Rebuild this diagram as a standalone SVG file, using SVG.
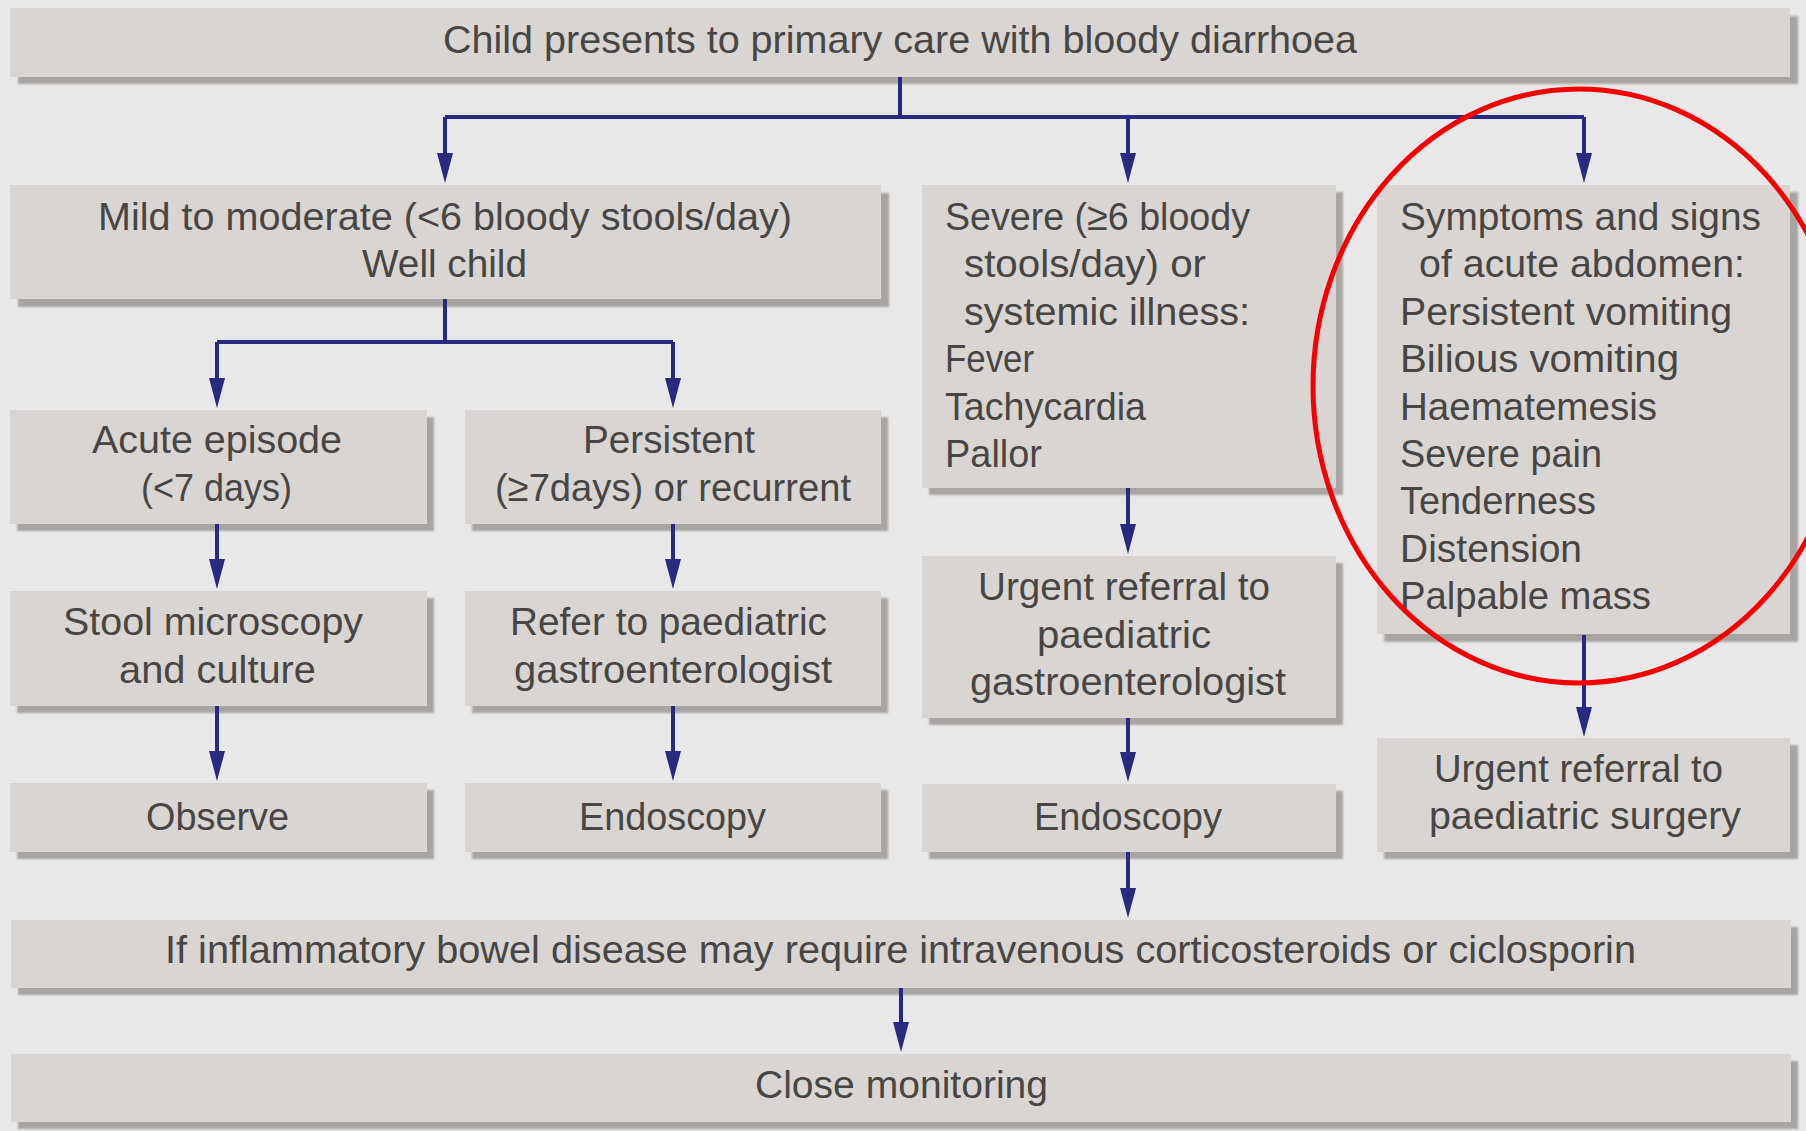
<svg xmlns="http://www.w3.org/2000/svg" width="1806" height="1131" viewBox="0 0 1806 1131">
  <defs>
    <style>
      .bg { fill: #e8e8e8; }
      .box { fill: #d9d5d2; }
      .sh { fill: #a8a4a2; filter: url(#soft); }
      .t { font-family: "Liberation Sans", Arial, sans-serif; font-size: 39.5px; fill: #474645; }
      .ln { fill: none; stroke: #29297f; stroke-width: 4; }
      .arr { fill: none; stroke: #29297f; stroke-width: 4; marker-end: url(#head); }
    </style>
    <filter id="soft" x="-5%" y="-20%" width="110%" height="140%">
      <feGaussianBlur stdDeviation="1.3"/>
    </filter>
    <marker id="head" viewBox="0 0 30 16" refX="10" refY="8" markerWidth="30" markerHeight="16" markerUnits="userSpaceOnUse" orient="auto">
      <path d="M0,0 L30,8 L0,16 Z" fill="#29297f"/>
    </marker>
  </defs>

  <rect class="bg" x="0" y="0" width="1806" height="1131"/>

  <!-- start -->
  <g id="start">
    <rect class="sh" x="18" y="16" width="1780" height="68"/>
    <rect class="box" x="10" y="8" width="1780" height="69"/>
    <text class="t" x="443" y="53" textLength="914" lengthAdjust="spacingAndGlyphs">Child presents to primary care with bloody diarrhoea</text>
  </g>

  <!-- first level -->
  <g id="mild">
    <rect class="sh" x="18" y="193" width="871" height="114"/>
    <rect class="box" x="10" y="185" width="871" height="114"/>
    <text class="t" x="98" y="230" textLength="694" lengthAdjust="spacingAndGlyphs">Mild to moderate (&lt;6 bloody stools/day)</text>
    <text class="t" x="362" y="277" textLength="165" lengthAdjust="spacingAndGlyphs">Well child</text>
  </g>

  <g id="severe">
    <rect class="sh" x="929" y="192" width="414" height="303"/>
    <rect class="box" x="922" y="185" width="414" height="303"/>
    <text class="t" x="945" y="230" textLength="305" lengthAdjust="spacingAndGlyphs">Severe (≥6 bloody</text>
    <text class="t" x="964" y="277" textLength="242" lengthAdjust="spacingAndGlyphs">stools/day) or</text>
    <text class="t" x="964" y="325" textLength="286" lengthAdjust="spacingAndGlyphs">systemic illness:</text>
    <text class="t" x="945" y="372" textLength="89" lengthAdjust="spacingAndGlyphs">Fever</text>
    <text class="t" x="945" y="420" textLength="201" lengthAdjust="spacingAndGlyphs">Tachycardia</text>
    <text class="t" x="945" y="467" textLength="97" lengthAdjust="spacingAndGlyphs">Pallor</text>
  </g>

  <g id="acute-abdomen">
    <rect class="sh" x="1384" y="192" width="414" height="450"/>
    <rect class="box" x="1377" y="185" width="413" height="449"/>
    <text class="t" x="1400" y="230" textLength="361" lengthAdjust="spacingAndGlyphs">Symptoms and signs</text>
    <text class="t" x="1419" y="277" textLength="326" lengthAdjust="spacingAndGlyphs">of acute abdomen:</text>
    <text class="t" x="1400" y="325" textLength="332" lengthAdjust="spacingAndGlyphs">Persistent vomiting</text>
    <text class="t" x="1400" y="372" textLength="279" lengthAdjust="spacingAndGlyphs">Bilious vomiting</text>
    <text class="t" x="1400" y="420" textLength="257" lengthAdjust="spacingAndGlyphs">Haematemesis</text>
    <text class="t" x="1400" y="467" textLength="202" lengthAdjust="spacingAndGlyphs">Severe pain</text>
    <text class="t" x="1400" y="514" textLength="196" lengthAdjust="spacingAndGlyphs">Tenderness</text>
    <text class="t" x="1400" y="562" textLength="182" lengthAdjust="spacingAndGlyphs">Distension</text>
    <text class="t" x="1400" y="609" textLength="251" lengthAdjust="spacingAndGlyphs">Palpable mass</text>
  </g>

  <!-- mild branch -->
  <g id="acute">
    <rect class="sh" x="17" y="417" width="417" height="114"/>
    <rect class="box" x="10" y="410" width="417" height="114"/>
    <text class="t" x="92" y="453" textLength="250" lengthAdjust="spacingAndGlyphs">Acute episode</text>
    <text class="t" x="141" y="501" textLength="151" lengthAdjust="spacingAndGlyphs">(&lt;7 days)</text>
  </g>

  <g id="persistent">
    <rect class="sh" x="472" y="417" width="416" height="114"/>
    <rect class="box" x="465" y="410" width="416" height="114"/>
    <text class="t" x="583" y="453" textLength="172" lengthAdjust="spacingAndGlyphs">Persistent</text>
    <text class="t" x="495" y="501" textLength="356" lengthAdjust="spacingAndGlyphs">(≥7days) or recurrent</text>
  </g>

  <g id="stool">
    <rect class="sh" x="17" y="598" width="417" height="115"/>
    <rect class="box" x="10" y="591" width="417" height="115"/>
    <text class="t" x="63" y="635" textLength="300" lengthAdjust="spacingAndGlyphs">Stool microscopy</text>
    <text class="t" x="119" y="683" textLength="197" lengthAdjust="spacingAndGlyphs">and culture</text>
  </g>

  <g id="refer">
    <rect class="sh" x="472" y="598" width="416" height="115"/>
    <rect class="box" x="465" y="591" width="416" height="115"/>
    <text class="t" x="510" y="635" textLength="317" lengthAdjust="spacingAndGlyphs">Refer to paediatric</text>
    <text class="t" x="514" y="683" textLength="318" lengthAdjust="spacingAndGlyphs">gastroenterologist</text>
  </g>

  <g id="observe">
    <rect class="sh" x="17" y="790" width="417" height="69"/>
    <rect class="box" x="10" y="783" width="417" height="69"/>
    <text class="t" x="146" y="830" textLength="143" lengthAdjust="spacingAndGlyphs">Observe</text>
  </g>

  <g id="endoscopy-1">
    <rect class="sh" x="472" y="790" width="416" height="69"/>
    <rect class="box" x="465" y="783" width="416" height="69"/>
    <text class="t" x="579" y="830" textLength="187" lengthAdjust="spacingAndGlyphs">Endoscopy</text>
  </g>

  <!-- severe branch -->
  <g id="urgent-gastro">
    <rect class="sh" x="929" y="563" width="414" height="162"/>
    <rect class="box" x="922" y="556" width="414" height="162"/>
    <text class="t" x="978" y="600" textLength="292" lengthAdjust="spacingAndGlyphs">Urgent referral to</text>
    <text class="t" x="1037" y="648" textLength="174" lengthAdjust="spacingAndGlyphs">paediatric</text>
    <text class="t" x="970" y="695" textLength="316" lengthAdjust="spacingAndGlyphs">gastroenterologist</text>
  </g>

  <g id="endoscopy-2">
    <rect class="sh" x="929" y="791" width="414" height="68"/>
    <rect class="box" x="922" y="784" width="414" height="68"/>
    <text class="t" x="1034" y="830" textLength="188" lengthAdjust="spacingAndGlyphs">Endoscopy</text>
  </g>

  <!-- acute abdomen branch -->
  <g id="urgent-surgery">
    <rect class="sh" x="1384" y="745" width="414" height="114"/>
    <rect class="box" x="1377" y="738" width="413" height="114"/>
    <text class="t" x="1434" y="782" textLength="289" lengthAdjust="spacingAndGlyphs">Urgent referral to</text>
    <text class="t" x="1429" y="829" textLength="312" lengthAdjust="spacingAndGlyphs">paediatric surgery</text>
  </g>

  <!-- bottom -->
  <g id="ibd">
    <rect class="sh" x="18" y="927" width="1780" height="68"/>
    <rect class="box" x="11" y="920" width="1780" height="68"/>
    <text class="t" x="165" y="963" textLength="1471" lengthAdjust="spacingAndGlyphs">If inflammatory bowel disease may require intravenous corticosteroids or ciclosporin</text>
  </g>

  <g id="monitoring">
    <rect class="sh" x="18" y="1061" width="1780" height="68"/>
    <rect class="box" x="11" y="1054" width="1780" height="68"/>
    <text class="t" x="755" y="1098" textLength="293" lengthAdjust="spacingAndGlyphs">Close monitoring</text>
  </g>

  <g id="connectors">
    <path class="ln" d="M900,77 V117 M445,117 H1584"/>
    <path class="arr" d="M445,117 V163"/>
    <path class="arr" d="M1128,117 V163"/>
    <path class="arr" d="M1584,117 V163"/>

    <path class="ln" d="M445,299 V342 M217,342 H673"/>
    <path class="arr" d="M217,342 V388"/>
    <path class="arr" d="M673,342 V388"/>
    <path class="arr" d="M217,524 V569"/>
    <path class="arr" d="M673,524 V569"/>
    <path class="arr" d="M217,706 V761"/>
    <path class="arr" d="M673,706 V761"/>

    <path class="arr" d="M1128,488 V534"/>
    <path class="arr" d="M1128,718 V762"/>
    <path class="arr" d="M1128,852 V898"/>

    <path class="arr" d="M1584,635 V717"/>

    <path class="arr" d="M901,988 V1032"/>
  </g>

  <!-- highlight ring round the acute abdomen box -->
  <ellipse cx="1579" cy="386" rx="266" ry="297" fill="none" stroke="#f40000" stroke-width="5"/>
</svg>
